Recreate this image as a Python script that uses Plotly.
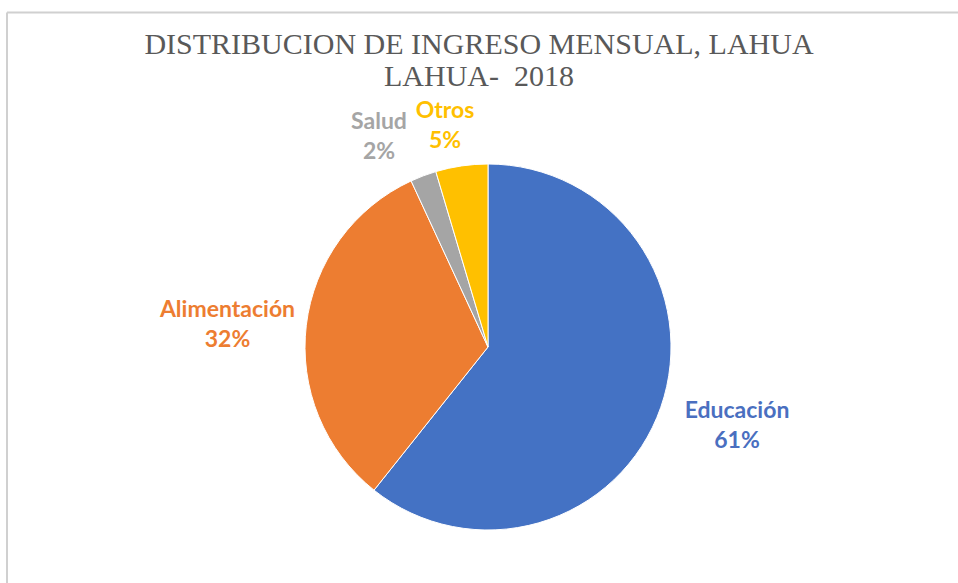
import plotly.graph_objects as go

categorias = ["Educación", "Alimentación", "Salud", "Otros"]
valores = [60.7, 32.4, 2.3, 4.6]
colores = ["#4472C4", "#ED7D31", "#A5A5A5", "#FFC000"]
titulo_1 = "DISTRIBUCION DE INGRESO MENSUAL, LAHUA"
titulo_2 = "LAHUA-  2018"

W, H = 958, 583
total = sum(valores)
porcentajes = [f"{round(v / total * 100)}%" for v in valores]

fig = go.Figure(go.Pie(
    labels=categorias,
    values=valores,
    sort=False,
    direction="clockwise",
    rotation=0,
    marker=dict(colors=colores, line=dict(color="white", width=1)),
    textinfo="none",
    hoverinfo="label+percent",
    showlegend=False,
    domain=dict(x=[305 / W, 671 / W], y=[1 - 530 / H, 1 - 164 / H]),
))

# posiciones de las etiquetas (px, centro)
pos = [(737, 424), (227, 323), (379, 135), (445, 124)]
etiquetas_col = ["#4A6FC0", "#ED7D31", "#A5A5A5", "#FFC000"]
for (x, y), cat, pct, c in zip(pos, categorias, porcentajes, etiquetas_col):
    fig.add_annotation(
        x=x / W, y=1 - y / H, xref="paper", yref="paper",
        xanchor="center", yanchor="middle",
        text=f"<b>{cat}<br>{pct}</b>", showarrow=False,
        font=dict(family="Lato", size=23, color=c),
        align="center", width=180,
    )

# segunda linea del titulo (interlineado mas corto que el de plotly)
fig.add_annotation(
    x=0.5, y=1 - 75 / H, xref="paper", yref="paper",
    xanchor="center", yanchor="middle", showarrow=False,
    text=titulo_2,
    font=dict(family="Liberation Serif", size=30, color="#595959"),
)

# marco
fig.add_shape(type="line", xref="paper", yref="paper",
              x0=7 / W, x1=1, y0=1 - 12.5 / H, y1=1 - 12.5 / H,
              line=dict(color="#d0d0d0", width=2))
fig.add_shape(type="line", xref="paper", yref="paper",
              x0=7 / W, x1=7 / W, y0=0, y1=1 - 12.5 / H,
              line=dict(color="#d0d0d0", width=2))

fig.update_layout(
    width=W, height=H,
    margin=dict(l=0, r=0, t=0, b=0),
    paper_bgcolor="white",
    title=dict(text=titulo_1, x=0.5, xanchor="center", y=1 - 43 / H, yanchor="middle",
               font=dict(family="Liberation Serif", size=30, color="#595959")),
)

fig.write_html("out.html", config={"displayModeBar": False},
               post_script="document.body.style.margin='0';")
